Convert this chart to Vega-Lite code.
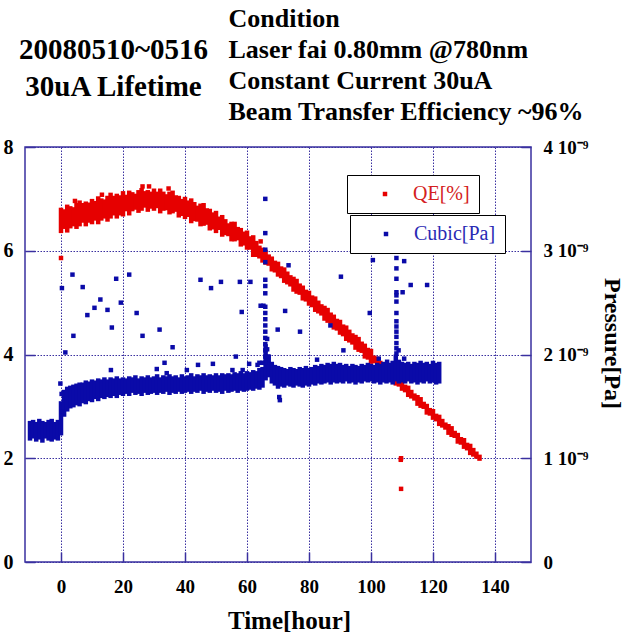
{
  "$schema": "https://vega.github.io/schema/vega-lite/v6.json",
  "width": 506,
  "height": 415,
  "autosize": {"type": "none"},
  "padding": {"left": 25, "top": 147, "right": 94, "bottom": 73},
  "background": "white",
  "config": {"view": {"stroke": "#3a30a0", "strokeWidth": 1.5}, "font": "Liberation Serif"},
  "datasets": {
    "qeBand": [
      {"t":0,"lo":6.34,"hi":6.83},{"t":1,"lo":6.42,"hi":6.80},{"t":2,"lo":6.35,"hi":6.89},{"t":3,"lo":6.43,"hi":6.86},{"t":4,"lo":6.47,"hi":6.84},
      {"t":5,"lo":6.42,"hi":6.92},{"t":6,"lo":6.47,"hi":6.97},{"t":7,"lo":6.54,"hi":6.92},{"t":8,"lo":6.47,"hi":6.95},{"t":9,"lo":6.54,"hi":6.93},
      {"t":10,"lo":6.51,"hi":7.00},{"t":11,"lo":6.58,"hi":6.96},{"t":12,"lo":6.51,"hi":7.05},{"t":13,"lo":6.58,"hi":7.01},{"t":14,"lo":6.62,"hi":6.99},
      {"t":15,"lo":6.56,"hi":7.06},{"t":16,"lo":6.62,"hi":7.12},{"t":17,"lo":6.68,"hi":7.06},{"t":18,"lo":6.62,"hi":7.10},{"t":19,"lo":6.68,"hi":7.07},
      {"t":20,"lo":6.66,"hi":7.15},{"t":21,"lo":6.76,"hi":7.08},{"t":22,"lo":6.68,"hi":7.16},{"t":23,"lo":6.76,"hi":7.13},{"t":24,"lo":6.79,"hi":7.10},
      {"t":25,"lo":6.73,"hi":7.17},{"t":26,"lo":6.77,"hi":7.21},{"t":27,"lo":6.83,"hi":7.15},{"t":28,"lo":6.75,"hi":7.17},{"t":29,"lo":6.81,"hi":7.14},
      {"t":30,"lo":6.77,"hi":7.20},{"t":31,"lo":6.82,"hi":7.14},{"t":32,"lo":6.72,"hi":7.20},{"t":33,"lo":6.77,"hi":7.14},{"t":34,"lo":6.78,"hi":7.09},
      {"t":35,"lo":6.70,"hi":7.14},{"t":36,"lo":6.72,"hi":7.16},{"t":37,"lo":6.75,"hi":7.07},{"t":38,"lo":6.64,"hi":7.06},{"t":39,"lo":6.67,"hi":7.00},
      {"t":40,"lo":6.61,"hi":7.04},{"t":41,"lo":6.65,"hi":6.97},{"t":42,"lo":6.53,"hi":7.01},{"t":43,"lo":6.57,"hi":6.94},{"t":44,"lo":6.56,"hi":6.87},
      {"t":45,"lo":6.47,"hi":6.91},{"t":46,"lo":6.48,"hi":6.92},{"t":47,"lo":6.50,"hi":6.82},{"t":48,"lo":6.39,"hi":6.81},{"t":49,"lo":6.41,"hi":6.74},
      {"t":50,"lo":6.34,"hi":6.77},{"t":51,"lo":6.40,"hi":6.66},{"t":52,"lo":6.27,"hi":6.69},{"t":53,"lo":6.30,"hi":6.61},{"t":54,"lo":6.28,"hi":6.53},
      {"t":55,"lo":6.18,"hi":6.56},{"t":56,"lo":6.18,"hi":6.56},{"t":57,"lo":6.20,"hi":6.46},{"t":58,"lo":6.08,"hi":6.44},{"t":59,"lo":6.10,"hi":6.37},
      {"t":60,"lo":6.02,"hi":6.39},{"t":61,"lo":6.02,"hi":6.28},{"t":62,"lo":5.88,"hi":6.30},{"t":63,"lo":5.88,"hi":6.19},{"t":64,"lo":5.85,"hi":6.10},
      {"t":65,"lo":5.77,"hi":6.06},{"t":66,"lo":5.73,"hi":6.02},{"t":67,"lo":5.71,"hi":5.93},{"t":68,"lo":5.60,"hi":5.89},{"t":69,"lo":5.58,"hi":5.81},
      {"t":70,"lo":5.50,"hi":5.79},{"t":71,"lo":5.47,"hi":5.70},{"t":72,"lo":5.38,"hi":5.68},{"t":73,"lo":5.35,"hi":5.60},{"t":74,"lo":5.31,"hi":5.53},
      {"t":75,"lo":5.21,"hi":5.50},{"t":76,"lo":5.17,"hi":5.46},{"t":77,"lo":5.15,"hi":5.37},{"t":78,"lo":5.04,"hi":5.33},{"t":79,"lo":5.02,"hi":5.25},
      {"t":80,"lo":4.94,"hi":5.23},{"t":81,"lo":4.91,"hi":5.14},{"t":82,"lo":4.82,"hi":5.12},{"t":83,"lo":4.79,"hi":5.04},{"t":84,"lo":4.75,"hi":4.97},
      {"t":85,"lo":4.65,"hi":4.94},{"t":86,"lo":4.61,"hi":4.90},{"t":87,"lo":4.59,"hi":4.81},{"t":88,"lo":4.48,"hi":4.77},{"t":89,"lo":4.46,"hi":4.69},
      {"t":90,"lo":4.38,"hi":4.67},{"t":91,"lo":4.35,"hi":4.58},{"t":92,"lo":4.26,"hi":4.56},{"t":93,"lo":4.23,"hi":4.48},{"t":94,"lo":4.19,"hi":4.41},
      {"t":95,"lo":4.09,"hi":4.38},{"t":96,"lo":4.05,"hi":4.34},{"t":97,"lo":4.03,"hi":4.25},{"t":98,"lo":3.92,"hi":4.21},{"t":99,"lo":3.90,"hi":4.13},
      {"t":100,"lo":3.82,"hi":4.11},{"t":101,"lo":3.83,"hi":3.98},{"t":102,"lo":3.74,"hi":3.96},{"t":103,"lo":3.71,"hi":3.88},{"t":104,"lo":3.67,"hi":3.81},
      {"t":105,"lo":3.57,"hi":3.78},{"t":106,"lo":3.53,"hi":3.74},{"t":107,"lo":3.51,"hi":3.65},{"t":108,"lo":3.40,"hi":3.61},{"t":109,"lo":3.38,"hi":3.53},
      {"t":110,"lo":3.30,"hi":3.51},{"t":111,"lo":3.27,"hi":3.42},{"t":112,"lo":3.18,"hi":3.40},{"t":113,"lo":3.15,"hi":3.32},{"t":114,"lo":3.11,"hi":3.25},
      {"t":115,"lo":3.01,"hi":3.22},{"t":116,"lo":2.97,"hi":3.18},{"t":117,"lo":2.95,"hi":3.09},{"t":118,"lo":2.84,"hi":3.05},{"t":119,"lo":2.82,"hi":2.97},
      {"t":120,"lo":2.74,"hi":2.95},{"t":121,"lo":2.71,"hi":2.86},{"t":122,"lo":2.62,"hi":2.84},{"t":123,"lo":2.59,"hi":2.76},{"t":124,"lo":2.55,"hi":2.69},
      {"t":125,"lo":2.45,"hi":2.66},{"t":126,"lo":2.41,"hi":2.62},{"t":127,"lo":2.39,"hi":2.53},{"t":128,"lo":2.28,"hi":2.49},{"t":129,"lo":2.26,"hi":2.41},
      {"t":130,"lo":2.18,"hi":2.39},{"t":131,"lo":2.15,"hi":2.30},{"t":132,"lo":2.06,"hi":2.28},{"t":133,"lo":2.03,"hi":2.20},{"t":134,"lo":1.99,"hi":2.13},
      {"t":135,"lo":1.95,"hi":2.07}
    ],
    "qePts": [
      {"t":0,"qe":5.86},{"t":4.5,"qe":6.96},{"t":13.2,"qe":7.08},{"t":26.3,"qe":7.24},{"t":28.4,"qe":7.24},{"t":34.7,"qe":7.2},
      {"t":64.4,"qe":6.18},{"t":109.7,"qe":2.0},{"t":109.6,"qe":1.97},{"t":109.7,"qe":1.41}
    ],
    "cuBand": [
      {"t":-10,"lo":1.17e-9,"hi":1.36e-9},{"t":-9,"lo":1.19e-9,"hi":1.37e-9},{"t":-8,"lo":1.16e-9,"hi":1.35e-9},{"t":-7,"lo":1.18e-9,"hi":1.38e-9},
      {"t":-6,"lo":1.15e-9,"hi":1.36e-9},{"t":-5,"lo":1.19e-9,"hi":1.35e-9},{"t":-4,"lo":1.17e-9,"hi":1.37e-9},{"t":-3,"lo":1.16e-9,"hi":1.38e-9},
      {"t":-2,"lo":1.18e-9,"hi":1.35e-9},{"t":-1,"lo":1.17e-9,"hi":1.37e-9},{"t":0,"lo":1.22e-9,"hi":1.55e-9},{"t":1,"lo":1.40e-9,"hi":1.66e-9},
      {"t":2,"lo":1.45e-9,"hi":1.69e-9},{"t":3,"lo":1.48e-9,"hi":1.70e-9},{"t":4,"lo":1.49e-9,"hi":1.71e-9},{"t":5,"lo":1.51e-9,"hi":1.72e-9},
      {"t":6,"lo":1.50e-9,"hi":1.73e-9},{"t":7,"lo":1.53e-9,"hi":1.73e-9},{"t":8,"lo":1.52e-9,"hi":1.75e-9},{"t":9,"lo":1.55e-9,"hi":1.74e-9},
      {"t":10,"lo":1.54e-9,"hi":1.76e-9},{"t":11,"lo":1.57e-9,"hi":1.75e-9},{"t":12,"lo":1.55e-9,"hi":1.77e-9},{"t":13,"lo":1.58e-9,"hi":1.76e-9},
      {"t":14,"lo":1.57e-9,"hi":1.78e-9},{"t":15,"lo":1.59e-9,"hi":1.76e-9},{"t":16,"lo":1.58e-9,"hi":1.78e-9},{"t":17,"lo":1.60e-9,"hi":1.77e-9},
      {"t":18,"lo":1.58e-9,"hi":1.79e-9},{"t":19,"lo":1.61e-9,"hi":1.77e-9},{"t":20,"lo":1.60e-9,"hi":1.78e-9},{"t":21,"lo":1.62e-9,"hi":1.77e-9},
      {"t":22,"lo":1.60e-9,"hi":1.79e-9},{"t":23,"lo":1.63e-9,"hi":1.78e-9},{"t":24,"lo":1.61e-9,"hi":1.80e-9},{"t":25,"lo":1.62e-9,"hi":1.77e-9},
      {"t":26,"lo":1.60e-9,"hi":1.79e-9},{"t":27,"lo":1.63e-9,"hi":1.78e-9},{"t":28,"lo":1.61e-9,"hi":1.80e-9},{"t":29,"lo":1.62e-9,"hi":1.78e-9},
      {"t":30,"lo":1.63e-9,"hi":1.79e-9},{"t":31,"lo":1.61e-9,"hi":1.81e-9},{"t":32,"lo":1.63e-9,"hi":1.78e-9},{"t":33,"lo":1.62e-9,"hi":1.80e-9},
      {"t":34,"lo":1.64e-9,"hi":1.79e-9},{"t":35,"lo":1.61e-9,"hi":1.81e-9},{"t":36,"lo":1.63e-9,"hi":1.79e-9},{"t":37,"lo":1.62e-9,"hi":1.80e-9},
      {"t":38,"lo":1.64e-9,"hi":1.78e-9},{"t":39,"lo":1.62e-9,"hi":1.81e-9},{"t":40,"lo":1.63e-9,"hi":1.79e-9},{"t":41,"lo":1.64e-9,"hi":1.80e-9},
      {"t":42,"lo":1.62e-9,"hi":1.82e-9},{"t":43,"lo":1.64e-9,"hi":1.79e-9},{"t":44,"lo":1.63e-9,"hi":1.81e-9},{"t":45,"lo":1.65e-9,"hi":1.80e-9},
      {"t":46,"lo":1.62e-9,"hi":1.82e-9},{"t":47,"lo":1.64e-9,"hi":1.80e-9},{"t":48,"lo":1.63e-9,"hi":1.81e-9},{"t":49,"lo":1.65e-9,"hi":1.80e-9},
      {"t":50,"lo":1.63e-9,"hi":1.82e-9},{"t":51,"lo":1.64e-9,"hi":1.80e-9},{"t":52,"lo":1.62e-9,"hi":1.82e-9},{"t":53,"lo":1.65e-9,"hi":1.81e-9},
      {"t":54,"lo":1.63e-9,"hi":1.82e-9},{"t":55,"lo":1.64e-9,"hi":1.81e-9},{"t":56,"lo":1.65e-9,"hi":1.83e-9},{"t":57,"lo":1.63e-9,"hi":1.82e-9},
      {"t":58,"lo":1.65e-9,"hi":1.84e-9},{"t":59,"lo":1.64e-9,"hi":1.82e-9},{"t":60,"lo":1.65e-9,"hi":1.84e-9},{"t":61,"lo":1.66e-9,"hi":1.83e-9},
      {"t":62,"lo":1.65e-9,"hi":1.85e-9},{"t":63,"lo":1.67e-9,"hi":1.84e-9},{"t":64,"lo":1.66e-9,"hi":1.87e-9},{"t":65,"lo":1.68e-9,"hi":1.88e-9},
      {"t":66,"lo":1.75e-9,"hi":2.10e-9},{"t":67,"lo":1.78e-9,"hi":2.00e-9},{"t":68,"lo":1.72e-9,"hi":1.93e-9},{"t":69,"lo":1.70e-9,"hi":1.90e-9},
      {"t":70,"lo":1.67e-9,"hi":1.89e-9},{"t":71,"lo":1.69e-9,"hi":1.88e-9},{"t":72,"lo":1.68e-9,"hi":1.87e-9},{"t":73,"lo":1.70e-9,"hi":1.86e-9},
      {"t":74,"lo":1.69e-9,"hi":1.88e-9},{"t":75,"lo":1.68e-9,"hi":1.87e-9},{"t":76,"lo":1.70e-9,"hi":1.86e-9},{"t":77,"lo":1.69e-9,"hi":1.88e-9},
      {"t":78,"lo":1.68e-9,"hi":1.87e-9},{"t":79,"lo":1.70e-9,"hi":1.89e-9},{"t":80,"lo":1.69e-9,"hi":1.87e-9},{"t":81,"lo":1.71e-9,"hi":1.88e-9},
      {"t":82,"lo":1.70e-9,"hi":1.90e-9},{"t":83,"lo":1.72e-9,"hi":1.89e-9},{"t":84,"lo":1.71e-9,"hi":1.91e-9},{"t":85,"lo":1.72e-9,"hi":1.90e-9},
      {"t":86,"lo":1.73e-9,"hi":1.92e-9},{"t":87,"lo":1.71e-9,"hi":1.91e-9},{"t":88,"lo":1.73e-9,"hi":1.93e-9},{"t":89,"lo":1.72e-9,"hi":1.91e-9},
      {"t":90,"lo":1.73e-9,"hi":1.92e-9},{"t":91,"lo":1.72e-9,"hi":1.90e-9},{"t":92,"lo":1.74e-9,"hi":1.91e-9},{"t":93,"lo":1.72e-9,"hi":1.89e-9},
      {"t":94,"lo":1.73e-9,"hi":1.91e-9},{"t":95,"lo":1.71e-9,"hi":1.90e-9},{"t":96,"lo":1.73e-9,"hi":1.89e-9},{"t":97,"lo":1.72e-9,"hi":1.91e-9},
      {"t":98,"lo":1.74e-9,"hi":1.90e-9},{"t":99,"lo":1.73e-9,"hi":1.92e-9},{"t":100,"lo":1.74e-9,"hi":1.91e-9},{"t":101,"lo":1.72e-9,"hi":1.90e-9},
      {"t":102,"lo":1.73e-9,"hi":1.92e-9},{"t":103,"lo":1.71e-9,"hi":1.91e-9},{"t":104,"lo":1.73e-9,"hi":1.93e-9},{"t":105,"lo":1.72e-9,"hi":1.91e-9},
      {"t":106,"lo":1.73e-9,"hi":1.92e-9},{"t":107,"lo":1.71e-9,"hi":1.94e-9},{"t":108,"lo":1.74e-9,"hi":2.00e-9},{"t":109,"lo":1.72e-9,"hi":1.95e-9},
      {"t":110,"lo":1.73e-9,"hi":1.93e-9},{"t":111,"lo":1.72e-9,"hi":1.92e-9},{"t":112,"lo":1.74e-9,"hi":1.93e-9},{"t":113,"lo":1.72e-9,"hi":1.91e-9},
      {"t":114,"lo":1.73e-9,"hi":1.93e-9},{"t":115,"lo":1.71e-9,"hi":1.92e-9},{"t":116,"lo":1.73e-9,"hi":1.94e-9},{"t":117,"lo":1.72e-9,"hi":1.92e-9},
      {"t":118,"lo":1.74e-9,"hi":1.93e-9},{"t":119,"lo":1.72e-9,"hi":1.91e-9},{"t":120,"lo":1.73e-9,"hi":1.94e-9},{"t":121,"lo":1.71e-9,"hi":1.92e-9},
      {"t":122,"lo":1.72e-9,"hi":1.93e-9}
    ],
    "cuPts": [
      {"t":65.9,"p":3.50e-9},{"t":65.9,"p":3.17e-9},{"t":65.9,"p":3.01e-9},{"t":65.9,"p":2.89e-9},{"t":65.9,"p":2.72e-9},{"t":65.9,"p":2.66e-9},
      {"t":65.9,"p":2.59e-9},{"t":65.9,"p":2.46e-9},{"t":65.9,"p":2.40e-9},{"t":65.9,"p":2.34e-9},{"t":65.9,"p":2.28e-9},{"t":65.9,"p":2.22e-9},
      {"t":65.9,"p":2.16e-9},{"t":65.9,"p":2.10e-9},{"t":65.9,"p":2.04e-9},{"t":65.9,"p":1.98e-9},{"t":65.9,"p":1.92e-9},
      {"t":65.3,"p":2.47e-9},{"t":66.5,"p":2.15e-9},{"t":66.5,"p":2.05e-9},{"t":66.8,"p":1.98e-9},
      {"t":108.2,"p":2.93e-9},{"t":108.2,"p":2.83e-9},{"t":108.2,"p":2.73e-9},{"t":108.2,"p":2.60e-9},{"t":108.2,"p":2.57e-9},{"t":108.2,"p":2.51e-9},
      {"t":108.2,"p":2.40e-9},{"t":108.2,"p":2.32e-9},{"t":108.2,"p":2.27e-9},{"t":108.2,"p":2.22e-9},{"t":108.2,"p":2.17e-9},{"t":108.2,"p":2.11e-9},
      {"t":108.2,"p":2.06e-9},{"t":108.2,"p":2.01e-9},{"t":108.9,"p":2.04e-9},
      {"t":-0.2,"p":1.72e-9},{"t":0.2,"p":1.62e-9},{"t":0.1,"p":1.45e-9},
      {"t":3.7,"p":2.77e-9},{"t":22.0,"p":2.77e-9},{"t":17.8,"p":2.73e-9},{"t":0.3,"p":2.64e-9},{"t":7.0,"p":2.65e-9},{"t":45.0,"p":2.72e-9},
      {"t":48.4,"p":2.64e-9},{"t":51.6,"p":2.70e-9},{"t":57.7,"p":2.70e-9},{"t":61.1,"p":2.70e-9},{"t":12.7,"p":2.53e-9},{"t":10.8,"p":2.45e-9},
      {"t":19.3,"p":2.50e-9},{"t":15.0,"p":2.43e-9},{"t":8.5,"p":2.38e-9},{"t":24.4,"p":2.40e-9},{"t":58.3,"p":2.41e-9},{"t":16.4,"p":2.26e-9},
      {"t":4.0,"p":2.18e-9},{"t":26.3,"p":2.18e-9},{"t":31.8,"p":2.24e-9},{"t":64.4,"p":2.47e-9},{"t":1.4,"p":2.02e-9},{"t":36.0,"p":2.07e-9},
      {"t":33.4,"p":1.92e-9},{"t":30.9,"p":1.86e-9},{"t":16.1,"p":1.85e-9},{"t":44.2,"p":1.90e-9},{"t":49.0,"p":1.91e-9},{"t":56.4,"p":1.98e-9},
      {"t":55.3,"p":1.85e-9},{"t":58.6,"p":1.85e-9},{"t":60.7,"p":1.91e-9},{"t":63.4,"p":1.90e-9},{"t":40.6,"p":1.85e-9},{"t":34.1,"p":1.82e-9},
      {"t":73.4,"p":2.86e-9},{"t":90.3,"p":2.75e-9},{"t":72.3,"p":2.42e-9},{"t":69.9,"p":2.24e-9},{"t":77.1,"p":2.22e-9},{"t":86.9,"p":2.28e-9},
      {"t":91.1,"p":2.04e-9},{"t":82.6,"p":1.95e-9},{"t":99.6,"p":2.40e-9},{"t":100.6,"p":2.91e-9},{"t":110.7,"p":2.90e-9},{"t":110.2,"p":2.60e-9},
      {"t":112.8,"p":2.67e-9},{"t":118.1,"p":2.67e-9},{"t":105.2,"p":1.93e-9},{"t":102.5,"p":1.96e-9},{"t":110.7,"p":1.96e-9},{"t":70.4,"p":1.59e-9},
      {"t":70.6,"p":1.56e-9},{"t":64.0,"p":1.92e-9},{"t":65.0,"p":1.92e-9}
    ]
  },
  "layer": [
    {
      "data": {"name": "qeBand"},
      "mark": {"type": "bar", "orient": "vertical", "width": 4.5, "color": "#e60000", "clip": true},
      "encoding": {
        "x": {"field": "t", "type": "quantitative", "scale": {"domain": [-10, 150], "nice": false, "zero": false},
          "axis": {"orient": "bottom", "values": [0, 20, 40, 60, 80, 100, 120, 140], "format": "d", "domain": false,
            "grid": true, "gridColor": "#3a30a0", "gridDash": [1.5, 1.5], "gridWidth": 1,
            "ticks": true, "tickSize": -10, "tickColor": "#3a30a0", "tickWidth": 1.5,
            "labelFont": "Liberation Serif", "labelFontWeight": "bold", "labelFontSize": 19, "labelColor": "#000", "labelPadding": 25, "labelFlush": false,
            "title": "Time[hour]", "titleFont": "Liberation Serif", "titleFontSize": 25, "titleFontWeight": "bold", "titleColor": "#000",
            "titleX": 264, "titleY": 58, "titleAlign": "center", "titleBaseline": "middle"}},
        "y": {"field": "lo", "type": "quantitative", "scale": {"domain": [0, 8], "nice": false, "zero": false},
          "axis": {"orient": "left", "values": [0, 2, 4, 6, 8], "format": "d", "domain": false,
            "grid": true, "gridColor": "#3a30a0", "gridDash": [1.5, 1.5], "gridWidth": 1,
            "ticks": true, "tickSize": -10, "tickColor": "#3a30a0", "tickWidth": 1.5,
            "labelFont": "Liberation Serif", "labelFontWeight": "bold", "labelFontSize": 20, "labelColor": "#000", "labelPadding": 22, "labelFlush": false,
            "title": ["20080510~0516", "30uA Lifetime"], "titleFont": "Liberation Serif", "titleFontSize": 29, "titleFontWeight": "bold", "titleColor": "#000",
            "titleAngle": 0, "titleX": 88, "titleY": -89, "titleAlign": "center", "titleBaseline": "alphabetic", "titleLineHeight": 37}},
        "y2": {"field": "hi"}
      }
    },
    {
      "data": {"name": "qePts"},
      "mark": {"type": "square", "size": 20, "opacity": 1, "clip": true},
      "encoding": {
        "x": {"field": "t", "type": "quantitative", "scale": {"domain": [-10, 150], "nice": false, "zero": false},
          "axis": {"orient": "top", "domain": false, "ticks": false, "labels": false, "grid": false,
            "title": ["Condition", "Laser fai 0.80mm @780nm", "Constant Current 30uA", "Beam Transfer Efficiency ~96%"],
            "titleFont": "Liberation Serif", "titleFontSize": 26, "titleFontWeight": "bold", "titleColor": "#000",
            "titleX": 203, "titleY": -121, "titleAlign": "left", "titleBaseline": "alphabetic", "titleLineHeight": 31.3, "titleAngle": 0}},
        "y": {"field": "qe", "type": "quantitative", "scale": {"domain": [0, 8], "nice": false, "zero": false}, "axis": null},
        "color": {"datum": "QE[%]", "type": "nominal", "scale": {"domain": ["QE[%]"], "range": ["#e60000"]},
          "legend": {"orient": "none", "legendX": 322, "legendY": 28, "title": null, "fillColor": "#fff", "strokeColor": "#000",
            "padding": 9, "symbolType": "square", "symbolSize": 20, "symbolOffset": 19, "labelOffset": 18, "symbolStrokeWidth": 0,
            "symbolFillColor": "#b02020", "symbolOpacity": 1,
            "labelFont": "Liberation Serif", "labelFontSize": 20, "labelColor": "#d42020"}},
        "fillOpacity": {"datum": "QE[%]", "type": "nominal", "scale": {"domain": ["QE[%]"], "range": [1]},
          "legend": {"orient": "none", "legendX": 326, "legendY": 32, "title": null, "fillColor": "#000", "strokeColor": "#000",
            "padding": 9, "symbolType": "square", "symbolSize": 20, "symbolOffset": 19, "labelOffset": 18, "symbolStrokeWidth": 0,
            "labelFont": "Liberation Serif", "labelFontSize": 20, "labelColor": "#000"}}
      }
    },
    {
      "data": {"name": "cuBand"},
      "mark": {"type": "bar", "orient": "vertical", "width": 4.5, "color": "#0a0aa8", "clip": true},
      "encoding": {
        "x": {"field": "t", "type": "quantitative", "scale": {"domain": [-10, 150], "nice": false, "zero": false}, "axis": null},
        "y": {"field": "lo", "type": "quantitative", "scale": {"domain": [0, 4e-9], "nice": false, "zero": false},
          "axis": {"orient": "right", "values": [0, 1e-9, 2e-9, 3e-9, 4e-9],
            "labelExpr": "datum.value == 0 ? '0' : round(datum.value * 1e9) + ' 10⁻⁹'",
            "domain": false, "grid": false, "ticks": true, "tickSize": -10, "tickColor": "#3a30a0", "tickWidth": 1.5,
            "labelFont": "Liberation Serif", "labelFontWeight": "bold", "labelFontSize": 19, "labelColor": "#000", "labelPadding": 22, "labelFlush": false,
            "title": "Pressure[Pa]", "titleFont": "Liberation Serif", "titleFontSize": 24, "titleFontWeight": "bold", "titleColor": "#000",
            "titleAngle": 90, "titleX": 80, "titleY": 196, "titleAlign": "center", "titleBaseline": "middle"}},
        "y2": {"field": "hi"}
      }
    },
    {
      "data": {"name": "cuPts"},
      "mark": {"type": "square", "size": 20, "opacity": 1, "clip": true},
      "encoding": {
        "x": {"field": "t", "type": "quantitative", "scale": {"domain": [-10, 150], "nice": false, "zero": false}, "axis": null},
        "y": {"field": "p", "type": "quantitative", "scale": {"domain": [0, 4e-9], "nice": false, "zero": false}, "axis": null},
        "fill": {"datum": "Cubic[Pa]", "type": "nominal", "scale": {"domain": ["Cubic[Pa]"], "range": ["#0a0aa8"]},
          "legend": {"orient": "none", "legendX": 325, "legendY": 68, "title": null, "fillColor": "#fff", "strokeColor": "#000",
            "padding": 9, "symbolType": "square", "symbolSize": 20, "symbolOffset": 17, "labelOffset": 18, "symbolStrokeWidth": 0,
            "symbolFillColor": "#0a0aa8", "symbolOpacity": 1,
            "labelFont": "Liberation Serif", "labelFontSize": 20, "labelColor": "#2a2ab4"}},
        "strokeOpacity": {"datum": "Cubic[Pa]", "type": "nominal", "scale": {"domain": ["Cubic[Pa]"], "range": [1]},
          "legend": {"orient": "none", "legendX": 329, "legendY": 72, "title": null, "fillColor": "#000", "strokeColor": "#000",
            "padding": 9, "symbolType": "square", "symbolSize": 20, "symbolOffset": 17, "labelOffset": 18, "symbolStrokeWidth": 0,
            "labelFont": "Liberation Serif", "labelFontSize": 20, "labelColor": "#000"}}
      }
    }
  ],
  "resolve": {"scale": {"y": "independent"}}
}
